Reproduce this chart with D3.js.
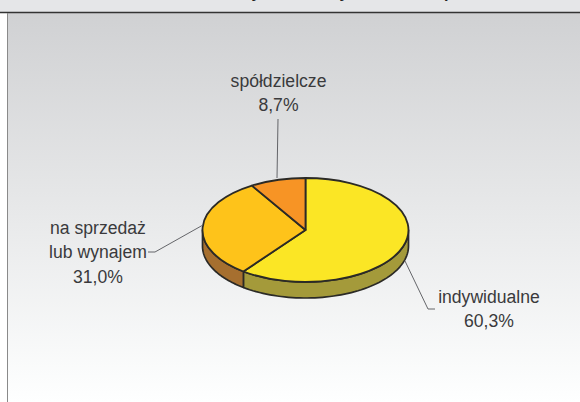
<!DOCTYPE html>
<html><head><meta charset="utf-8">
<script src="https://cdn.jsdelivr.net/npm/d3@7/dist/d3.min.js"></script>
<style>html,body{margin:0;padding:0;background:#fff}svg{display:block}text{font-family:"Liberation Sans",Arial,sans-serif}</style>
</head><body><svg id="c" width="580" height="402"></svg>
<script>
const categories=["indywidualne","na sprzedaż|lub wynajem","spółdzielcze"];
const values=[60.3,31.0,8.7];
const valueLabels=["60,3%","31,0%","8,7%"];
const topColors=["#fbe625","#fec31a","#f79425"];
const sideColors=["#a49a3a","#a66f2f","#a66f2f"];
// Only the descenders of the title survive at the top edge of the reference
const titleGlyphs=["y","y","p"];

const svg=d3.select("#c");
const defs=svg.append("defs");
const g=defs.append("linearGradient").attr("id","bg").attr("x1",0).attr("x2",0).attr("y1",0).attr("y2",1);
g.append("stop").attr("offset",0).attr("stop-color","#d0d1d3");
g.append("stop").attr("offset",1).attr("stop-color","#feffff");
svg.append("rect").attr("width",580).attr("height",12).attr("fill","#e5e6e8");
svg.append("rect").attr("x",8).attr("y",13).attr("width",572).attr("height",389).attr("fill","url(#bg)");
svg.append("line").attr("x1",0).attr("x2",580).attr("y1",12.5).attr("y2",12.5).attr("stroke","#333").attr("stroke-width",1.4);
svg.append("line").attr("x1",7.5).attr("x2",7.5).attr("y1",13).attr("y2",402).attr("stroke","#8a8a8a").attr("stroke-width",1);

const cx=305.5,cy=230,rx=103,ry=52,depth=16;
const pie=d3.pie().sort(null).value(d=>d)(values);
const px=a=>cx+rx*Math.sin(a), py=a=>cy-ry*Math.cos(a);
const stroke="#2b2a26";

const sideLine=d3.line();
pie.forEach((d,i)=>{
  const a0=Math.max(d.startAngle,Math.PI/2),a1=Math.min(d.endAngle,Math.PI*1.5);
  if(a1<=a0)return;
  const as=d3.range(0,61).map(k=>a0+(a1-a0)*k/60);
  const pts=as.map(a=>[px(a),py(a)]).concat(as.slice().reverse().map(a=>[px(a),py(a)+depth]));
  svg.append("path").attr("d",sideLine(pts)+"Z").attr("fill",sideColors[i]).attr("stroke",stroke).attr("stroke-width",1.7).attr("stroke-linejoin","round");
});

const arc=d3.arc().innerRadius(0).outerRadius(1);
const topG=svg.append("g").attr("transform",`translate(${cx},${cy}) scale(${rx},${ry})`);
topG.selectAll("path").data(pie).join("path").attr("d",arc)
  .attr("fill",(d,i)=>topColors[i]).attr("stroke",stroke).attr("stroke-width",1.8)
  .attr("vector-effect","non-scaling-stroke").attr("stroke-linejoin","round");

const leaders=[[[405,261],[428,309],[435,309]],[[203,225],[155,252],[148,252]],[[277,178],[278,119]]];
const ll=d3.line();
svg.selectAll("path.leader").data(leaders).join("path").attr("class","leader").attr("d",ll)
  .attr("fill","none").attr("stroke","#55565a").attr("stroke-width",0.9);

const labelPos=[[489,303],[98,234],[278.5,87]];
categories.forEach((c,i)=>{
  const lines=c.split("|").concat(valueLabels[i]);
  const t=svg.append("text").attr("text-anchor","middle").attr("font-size",17.6).attr("fill","#3a3a3c");
  lines.forEach((s,k)=>t.append("tspan").attr("x",labelPos[i][0]).attr("y",labelPos[i][1]+k*24.3).text(s));
});
const titleX=[256,344,449];
titleGlyphs.forEach((s,i)=>svg.append("text").attr("x",titleX[i]).attr("y",-2.2).attr("text-anchor","middle")
  .attr("font-size",16).attr("font-weight","bold").attr("fill","#222").text(s));
</script></body></html>
